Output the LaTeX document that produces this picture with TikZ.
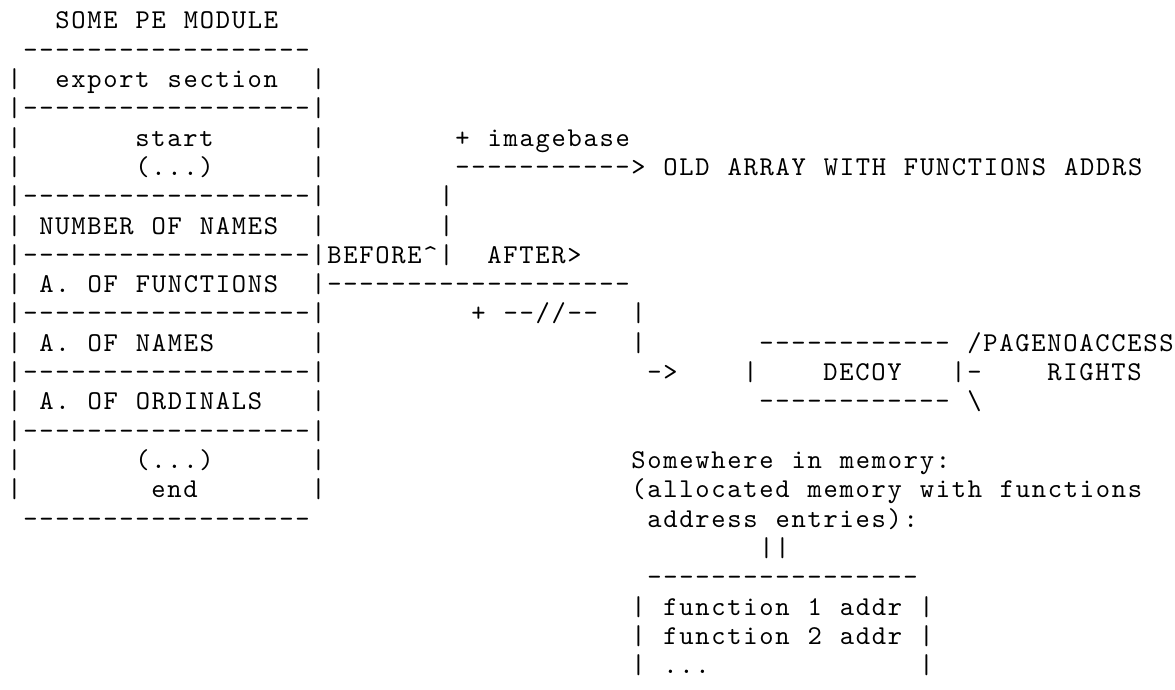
\documentclass[tikz,border=0pt]{standalone}
\usepackage{fontspec}
% typewriter face, spread to an 8pt character cell
\newfontfamily\asciifont{lmmono10-regular.otf}[LetterSpace=6.32, WordSpace={1.1204,0,0}]

% a run of n hyphens
\newcommand{\dashrun}[1]{\foreach \x in {1,...,#1}{-}}

\begin{document}
\begin{tikzpicture}[
        x=8pt, y=-14.65pt,
        asc/.style={font={\asciifont\fontsize{13.6pt}{14.65pt}\selectfont}, anchor=base west, inner sep=0pt}
    ]
        \useasboundingbox (-3.5pt,14.5pt) rectangle (584pt,-330.5pt);

        % PE module table
        \node[asc] (title) at (3,0) {SOME PE MODULE};
        \node[asc] (tabtop) at (1,1) {\dashrun{18}};
        \foreach \r in {2,4,5,7,9,11,13,15,16} {
            \node[asc] (lbar\r) at (0,\r) {|};
            \node[asc] (rbar\r) at (19,\r) {|};
        }
        \foreach \r in {3,6,8,10,12,14} {
            \node[asc] (sep\r) at (0,\r) {|\dashrun{18}|};
        }
        \node[asc] (tabbot) at (1,17) {\dashrun{18}};

        \node[asc] (export) at (3,2) {export section};
        \node[asc] (start) at (8,4) {start};
        \node[asc] (dots1) at (8,5) {(...)};
        \node[asc] (numnames) at (2,7) {NUMBER OF NAMES};
        \node[asc] (afuncs) at (2,9) {A. OF FUNCTIONS};
        \node[asc] (anames) at (2,11) {A. OF NAMES};
        \node[asc] (aords) at (2,13) {A. OF ORDINALS};
        \node[asc] (dots2) at (8,15) {(...)};
        \node[asc] (end) at (9,16) {end};

        % old pointer, before the hook
        \node[asc] (imgbase) at (28,4) {+ imagebase};
        \node[asc] (oldarrow) at (28,5) {\dashrun{11}>};
        \node[asc] (oldarray) at (41,5) {OLD ARRAY WITH FUNCTIONS ADDRS};
        \node[asc] (up6) at (27,6) {|};
        \node[asc] (up7) at (27,7) {|};
        \node[asc] (before) at (20,8) {BEFORE\textasciicircum|};
        \node[asc] (after) at (30,8) {AFTER>};

        % new pointer, after the hook
        \node[asc] (newline) at (20,9) {\dashrun{19}};
        \node[asc] (plus) at (29,10) {+ \dashrun{2}//\dashrun{2}};
        \node[asc] (down10) at (39,10) {|};
        \node[asc] (down11) at (39,11) {|};
        \node[asc] (newarrow) at (40,12) {->};

        % decoy page
        \node[asc] (dectop) at (47,11) {\dashrun{12}};
        \node[asc] (decl) at (46,12) {|};
        \node[asc] (decoy) at (51,12) {DECOY};
        \node[asc] (decr) at (59,12) {|-};
        \node[asc] (decbot) at (47,13) {\dashrun{12}};
        \node[asc] (noacc) at (60,11) {/PAGENOACCESS};
        \node[asc] (rights) at (65,12) {RIGHTS};
        \node[asc] (slash) at (60,13) {\textbackslash};

        % new array
        \node[asc] (memo1) at (39,15) {Somewhere in memory:};
        \node[asc] (memo2) at (39,16) {(allocated memory with functions};
        \node[asc] (memo3) at (40,17) {address entries):};
        \node[asc] (pipe) at (47,18) {||};
        \node[asc] (arrtop) at (40,19) {\dashrun{17}};
        \foreach \r in {20,21,22} {
            \node[asc] (albar\r) at (39,\r) {|};
            \node[asc] (arbar\r) at (57,\r) {|};
        }
        \node[asc] (fn1) at (41,20) {function 1 addr};
        \node[asc] (fn2) at (41,21) {function 2 addr};
        \node[asc] (fnmore) at (41,22) {...};

    \end{tikzpicture}
\end{document}
